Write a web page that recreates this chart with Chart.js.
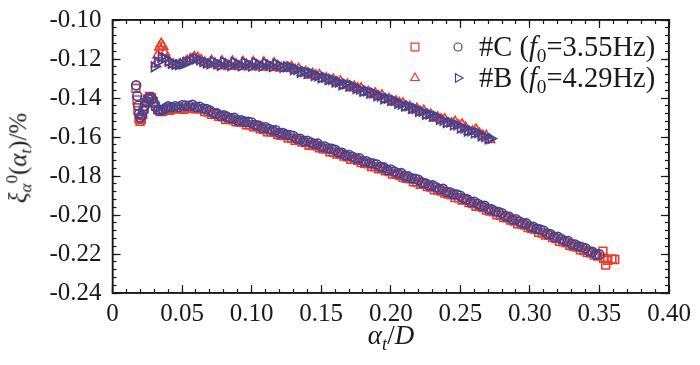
<!DOCTYPE html>
<html>
<head>
<meta charset="utf-8">
<script src="https://cdn.jsdelivr.net/npm/chart.js@4.4.1/dist/chart.umd.min.js"></script>
<style>
  body { margin: 0; background: #fff; }
  #wrap { position: relative; width: 700px; height: 365px; }
  .lbl { position: absolute; font-family: "Liberation Serif", "DejaVu Serif", serif; color: #1a1a1a; white-space: nowrap; line-height: 1; }
  .lbl sub { font-size: 0.68em; vertical-align: -0.3em; }
  .lbl sup { font-size: 0.68em; vertical-align: 0.55em; }
  #ytitle { left: 19px; top: 158px; font-size: 25px; transform: translate(-50%, -50%) rotate(-90deg); }
  #xtitle { left: 391px; top: 322px; font-size: 27px; transform: translateX(-50%); }
  .leg { left: 479px; font-size: 28.5px; }
  #leg1 { top: 33px; }
  #leg2 { top: 64px; }
</style>
</head>
<body>
<div id="wrap">
  <canvas id="grafico" width="700" height="365"></canvas>
  <div class="lbl" id="ytitle"><i>ξ</i><sub><i>α</i></sub><sup>0</sup>(<i>α</i><sub><i>t</i></sub>)/%</div>
  <div class="lbl" id="xtitle"><i>α</i><sub><i>t</i></sub>/<i>D</i></div>
  <div class="lbl leg" id="leg1">#C (<i>f</i><sub>0</sub>=3.55Hz)</div>
  <div class="lbl leg" id="leg2">#B (<i>f</i><sub>0</sub>=4.29Hz)</div>
</div>
<script>
// etiquetas de los ejes
const xTickLabels = ['0', '0.05', '0.10', '0.15', '0.20', '0.25', '0.30', '0.35', '0.40'];
const yTickLabels = ['-0.24', '-0.22', '-0.20', '-0.18', '-0.16', '-0.14', '-0.12', '-0.10'];

// #C, circulos azules
const cCircleX = [0.017, 0.0178, 0.0185, 0.0192, 0.020, 0.021, 0.022, 0.0232, 0.0245, 0.0258, 0.027, 0.0283, 0.0297, 0.0312, 0.0328, 0.0345, 0.0362, 0.038,
  0.0400, 0.0425, 0.0450, 0.0475, 0.0500, 0.0525, 0.0550, 0.0575, 0.0600, 0.0625, 0.0650, 0.0675, 0.0700, 0.0725, 0.0750, 0.0775, 0.0800, 0.0825, 0.0850, 0.0875, 0.0900, 0.0925, 0.0950, 0.0975,
  0.1000, 0.1025, 0.1050, 0.1075, 0.1100, 0.1125, 0.1150, 0.1175, 0.1200, 0.1225, 0.1250, 0.1275, 0.1300, 0.1325, 0.1350, 0.1375, 0.1400, 0.1425, 0.1450, 0.1475,
  0.1500, 0.1525, 0.1550, 0.1575, 0.1600, 0.1625, 0.1650, 0.1675, 0.1700, 0.1725, 0.1750, 0.1775, 0.1800, 0.1825, 0.1850, 0.1875, 0.1900, 0.1925, 0.1950, 0.1975,
  0.2000, 0.2025, 0.2050, 0.2075, 0.2100, 0.2125, 0.2150, 0.2175, 0.2200, 0.2225, 0.2250, 0.2275, 0.2300, 0.2325, 0.2350, 0.2375, 0.2400, 0.2425, 0.2450, 0.2475,
  0.2500, 0.2525, 0.2550, 0.2575, 0.2600, 0.2625, 0.2650, 0.2675, 0.2700, 0.2725, 0.2750, 0.2775, 0.2800, 0.2825, 0.2850, 0.2875, 0.2900, 0.2925, 0.2950, 0.2975,
  0.3000, 0.3025, 0.3050, 0.3075, 0.3100, 0.3125, 0.3150, 0.3175, 0.3200, 0.3225, 0.3250, 0.3275, 0.3300, 0.3325, 0.3350, 0.3375, 0.3400, 0.3425, 0.3450, 0.3475, 0.3500];
const cCircleY = [-0.1335, -0.1390, -0.1440, -0.1480, -0.1500, -0.1490, -0.1465, -0.1440, -0.1418, -0.1402, -0.1396, -0.1404, -0.1425, -0.1447, -0.1462, -0.1466, -0.1460, -0.1452,
  -0.1443, -0.1448, -0.1442, -0.1446, -0.1437, -0.1439, -0.1440, -0.1435, -0.1446, -0.1445, -0.1454, -0.1457, -0.1464, -0.1477, -0.1479, -0.1491, -0.1489, -0.1497, -0.1504, -0.1502, -0.1515, -0.1514, -0.1521, -0.1522,
  -0.1526, -0.1539, -0.1541, -0.1552, -0.1550, -0.1559, -0.1566, -0.1565, -0.1580, -0.1580, -0.1588, -0.1590, -0.1595, -0.1608, -0.1609, -0.1621, -0.1619, -0.1628, -0.1635, -0.1634,
  -0.1649, -0.1649, -0.1658, -0.1661, -0.1666, -0.1679, -0.1681, -0.1694, -0.1692, -0.1701, -0.1709, -0.1709, -0.1724, -0.1724, -0.1733, -0.1736, -0.1741, -0.1754, -0.1756, -0.1769,
  -0.1767, -0.1777, -0.1786, -0.1785, -0.1801, -0.1802, -0.1812, -0.1814, -0.1820, -0.1834, -0.1837, -0.1849, -0.1848, -0.1858, -0.1867, -0.1866, -0.1882, -0.1883, -0.1893, -0.1895,
  -0.1901, -0.1916, -0.1919, -0.1933, -0.1932, -0.1943, -0.1952, -0.1953, -0.1969, -0.1971, -0.1981, -0.1985, -0.1991, -0.2006, -0.2009, -0.2023, -0.2022, -0.2033, -0.2042, -0.2043,
  -0.2059, -0.2061, -0.2071, -0.2075, -0.2081, -0.2096, -0.2099, -0.2113, -0.2112, -0.2123, -0.2132, -0.2133, -0.2149, -0.2151, -0.2161, -0.2165, -0.2171, -0.2186, -0.2189, -0.2203, -0.2202];

// #C, cuadrados rojos
const cSquareX = [0.0168, 0.0176, 0.0183, 0.0190, 0.0198, 0.0207, 0.0217, 0.0228, 0.0240, 0.0253, 0.0266, 0.0280, 0.0294, 0.0309, 0.0325, 0.0342, 0.0360, 0.0378, 0.0395,
  0.04125, 0.04375, 0.04625, 0.04875, 0.05125, 0.05375, 0.05625, 0.05875, 0.06125, 0.06375, 0.06625, 0.06875, 0.07125, 0.07375, 0.07625, 0.07875, 0.08125, 0.08375, 0.08625, 0.08875, 0.09125, 0.09375, 0.09625, 0.09875,
  0.10125, 0.10375, 0.10625, 0.10875, 0.11125, 0.11375, 0.11625, 0.11875, 0.12125, 0.12375, 0.12625, 0.12875, 0.13125, 0.13375, 0.13625, 0.13875, 0.14125, 0.14375, 0.14625, 0.14875,
  0.15125, 0.15375, 0.15625, 0.15875, 0.16125, 0.16375, 0.16625, 0.16875, 0.17125, 0.17375, 0.17625, 0.17875, 0.18125, 0.18375, 0.18625, 0.18875, 0.19125, 0.19375, 0.19625, 0.19875,
  0.20125, 0.20375, 0.20625, 0.20875, 0.21125, 0.21375, 0.21625, 0.21875, 0.22125, 0.22375, 0.22625, 0.22875, 0.23125, 0.23375, 0.23625, 0.23875, 0.24125, 0.24375, 0.24625, 0.24875,
  0.25125, 0.25375, 0.25625, 0.25875, 0.26125, 0.26375, 0.26625, 0.26875, 0.27125, 0.27375, 0.27625, 0.27875, 0.28125, 0.28375, 0.28625, 0.28875, 0.29125, 0.29375, 0.29625, 0.29875,
  0.30125, 0.30375, 0.30625, 0.30875, 0.31125, 0.31375, 0.31625, 0.31875, 0.32125, 0.32375, 0.32625, 0.32875, 0.33125, 0.33375, 0.33625, 0.33875, 0.34125, 0.34375, 0.34625, 0.34875,
  0.3525, 0.3530, 0.3545, 0.3560, 0.3590, 0.3610];
const cSquareY = [-0.1350, -0.1410, -0.1465, -0.1505, -0.1520, -0.1510, -0.1485, -0.1455, -0.1425, -0.1405, -0.1392, -0.1398, -0.1418, -0.1442, -0.1460, -0.1470, -0.1468, -0.1460, -0.1455,
  -0.1463, -0.1454, -0.1457, -0.1452, -0.1458, -0.1451, -0.1448, -0.1455, -0.1455, -0.1456, -0.1470, -0.1472, -0.1484, -0.1483, -0.1494, -0.1497, -0.1510, -0.1509, -0.1512, -0.1522, -0.1524, -0.1525, -0.1537, -0.1537,
  -0.1548, -0.1547, -0.1558, -0.1560, -0.1573, -0.1573, -0.1576, -0.1587, -0.1591, -0.1593, -0.1606, -0.1607, -0.1617, -0.1616, -0.1626, -0.1629, -0.1642, -0.1642, -0.1645, -0.1656,
  -0.1660, -0.1662, -0.1676, -0.1678, -0.1688, -0.1687, -0.1698, -0.1702, -0.1715, -0.1715, -0.1719, -0.1731, -0.1735, -0.1737, -0.1751, -0.1753, -0.1763, -0.1762, -0.1773, -0.1777,
  -0.1790, -0.1791, -0.1796, -0.1807, -0.1812, -0.1815, -0.1830, -0.1831, -0.1842, -0.1842, -0.1854, -0.1857, -0.1871, -0.1872, -0.1877, -0.1888, -0.1893, -0.1896, -0.1911, -0.1912,
  -0.1923, -0.1924, -0.1936, -0.1941, -0.1955, -0.1957, -0.1962, -0.1975, -0.1980, -0.1984, -0.1999, -0.2002, -0.2013, -0.2014, -0.2026, -0.2031, -0.2045, -0.2047, -0.2052, -0.2065,
  -0.2070, -0.2074, -0.2089, -0.2092, -0.2103, -0.2104, -0.2116, -0.2121, -0.2135, -0.2137, -0.2142, -0.2155, -0.2160, -0.2164, -0.2179, -0.2182, -0.2193, -0.2194, -0.2206, -0.2211,
  -0.2185, -0.2222, -0.2257, -0.2232, -0.2225, -0.2228];

// #B, triangulos azules (hacia la derecha)
const bRightX = [0.0300, 0.0325, 0.0350, 0.0375, 0.0400, 0.0425, 0.0450, 0.0475, 0.0500, 0.0525, 0.0550, 0.0575, 0.0600, 0.0625, 0.0650, 0.0675, 0.0700,
  0.0725, 0.0750, 0.0775, 0.0800, 0.0825, 0.0850, 0.0875, 0.0900, 0.0925, 0.0950, 0.0975, 0.1000, 0.1025, 0.1050, 0.1075, 0.1100, 0.1125, 0.1150, 0.1175, 0.1200, 0.1225, 0.1250,
  0.1275, 0.1300, 0.1325, 0.1350, 0.1375, 0.1400, 0.1425, 0.1450, 0.1475, 0.1500, 0.1525, 0.1550, 0.1575, 0.1600, 0.1625, 0.1650, 0.1675, 0.1700, 0.1725, 0.1750,
  0.1775, 0.1800, 0.1825, 0.1850, 0.1875, 0.1900, 0.1925, 0.1950, 0.1975, 0.2000, 0.2025, 0.2050, 0.2075, 0.2100, 0.2125, 0.2150, 0.2175, 0.2200, 0.2225, 0.2250,
  0.2275, 0.2300, 0.2325, 0.2350, 0.2375, 0.2400, 0.2425, 0.2450, 0.2475, 0.2500, 0.2525, 0.2550, 0.2575, 0.2600, 0.2625, 0.2650, 0.2675, 0.2700, 0.2720];
const bRightY = [-0.1240, -0.1215, -0.1190, -0.1195, -0.1212, -0.1222, -0.1228, -0.1229, -0.1226, -0.1220, -0.1212, -0.1203, -0.1198, -0.1204, -0.1213, -0.1221, -0.1225,
  -0.1215, -0.1222, -0.1232, -0.1216, -0.1224, -0.1234, -0.1218, -0.1226, -0.1235, -0.1219, -0.1227, -0.1236, -0.1220, -0.1228, -0.1237, -0.1222, -0.1230, -0.1239, -0.1226, -0.1234, -0.1243, -0.1240,
  -0.1239, -0.1254, -0.1254, -0.1268, -0.1264, -0.1273, -0.1271, -0.1285, -0.1287, -0.1297, -0.1294, -0.1305, -0.1304, -0.1318, -0.1318, -0.1332, -0.1328, -0.1338, -0.1337, -0.1352,
  -0.1355, -0.1366, -0.1363, -0.1375, -0.1374, -0.1389, -0.1390, -0.1404, -0.1402, -0.1412, -0.1412, -0.1427, -0.1431, -0.1442, -0.1440, -0.1453, -0.1453, -0.1469, -0.1469, -0.1484,
  -0.1482, -0.1493, -0.1493, -0.1510, -0.1514, -0.1526, -0.1524, -0.1538, -0.1538, -0.1554, -0.1555, -0.1570, -0.1568, -0.1579, -0.1578, -0.1594, -0.1598, -0.1610, -0.1608];

// #B, triangulos rojos
const bTriX = [0.0312, 0.0325, 0.0338, 0.0350, 0.0362, 0.0376, 0.0392, 0.0410, 0.0435, 0.04625, 0.04875, 0.05125, 0.05375, 0.05625, 0.05875, 0.06125, 0.06375, 0.06625, 0.06875,
  0.07125, 0.07375, 0.07625, 0.07875, 0.08125, 0.08375, 0.08625, 0.08875, 0.09125, 0.09375, 0.09625, 0.09875, 0.10125, 0.10375, 0.10625, 0.10875, 0.11125, 0.11375, 0.11625, 0.11875, 0.12125, 0.12375,
  0.12625, 0.12875, 0.13125, 0.13375, 0.13625, 0.13875, 0.14125, 0.14375, 0.14625, 0.14875, 0.15125, 0.15375, 0.15625, 0.15875, 0.16125, 0.16375, 0.16625, 0.16875, 0.17125, 0.17375,
  0.17625, 0.17875, 0.18125, 0.18375, 0.18625, 0.18875, 0.19125, 0.19375, 0.19625, 0.19875, 0.20125, 0.20375, 0.20625, 0.20875, 0.21125, 0.21375, 0.21625, 0.21875, 0.22125, 0.22375,
  0.22625, 0.22875, 0.23125, 0.23375, 0.23625, 0.23875, 0.24125, 0.24375, 0.24625, 0.24875, 0.25125, 0.25375, 0.25625, 0.25875, 0.26125, 0.26375, 0.26625, 0.26875, 0.27125];
const bTriY = [-0.1225, -0.1180, -0.1140, -0.1122, -0.1135, -0.1168, -0.1198, -0.1215, -0.1228, -0.1233, -0.1226, -0.1218, -0.1210, -0.1200, -0.1190, -0.1194, -0.1206, -0.1218, -0.1226,
  -0.1210, -0.1224, -0.1236, -0.1212, -0.1226, -0.1238, -0.1213, -0.1228, -0.1239, -0.1215, -0.1229, -0.1241, -0.1216, -0.1231, -0.1242, -0.1218, -0.1233, -0.1244, -0.1222, -0.1236, -0.1247, -0.1244,
  -0.1248, -0.1241, -0.1255, -0.1251, -0.1270, -0.1267, -0.1283, -0.1276, -0.1284, -0.1283, -0.1301, -0.1299, -0.1313, -0.1306, -0.1319, -0.1315, -0.1334, -0.1331, -0.1348, -0.1342,
  -0.1351, -0.1351, -0.1370, -0.1368, -0.1383, -0.1376, -0.1390, -0.1387, -0.1406, -0.1405, -0.1422, -0.1417, -0.1426, -0.1427, -0.1446, -0.1445, -0.1461, -0.1455, -0.1470, -0.1466,
  -0.1486, -0.1485, -0.1503, -0.1499, -0.1509, -0.1510, -0.1530, -0.1530, -0.1522, -0.1540, -0.1536, -0.1552, -0.1572, -0.1571, -0.1562, -0.1583, -0.1593, -0.1594, -0.1614];

const ROJO = '#ef3b26';
const AZUL = '#3d4597';
const NEGRO = '#1a1a1a';
const FUENTE = '"Liberation Serif", "DejaVu Serif", serif';

function puntos(xs, ys) {
  return xs.map((x, i) => ({ x: x, y: ys[i] }));
}

// marco (refuerzo) y marcadores de la leyenda
const leyendaPlugin = {
  id: 'leyenda',
  afterDraw(chart) {
    const c = chart.ctx;
    const a = chart.chartArea;
    c.save();
    c.strokeStyle = NEGRO;
    c.lineWidth = 1.5;
    c.strokeRect(a.left, a.top, a.right - a.left, a.bottom - a.top);

    const marcas = [
      { color: ROJO, style: 'rect', rot: 0, r: 5.5, x: 415, y: 47 },
      { color: AZUL, style: 'circle', rot: 0, r: 4, x: 458, y: 47 },
      { color: ROJO, style: 'triangle', rot: 0, r: 5, x: 415, y: 78 },
      { color: AZUL, style: 'triangle', rot: 90, r: 5, x: 458, y: 78 }
    ];
    c.lineWidth = 1.2;
    c.fillStyle = 'rgba(0,0,0,0)';
    marcas.forEach(m => {
      c.strokeStyle = m.color;
      Chart.helpers.drawPoint(c, { pointStyle: m.style, rotation: m.rot, radius: m.r, borderWidth: 1.2 }, m.x, m.y);
    });
    c.restore();
  }
};

const serie = (label, xs, ys, color, style, rot, r) => ({
  label: label,
  data: puntos(xs, ys),
  showLine: false,
  pointStyle: style,
  pointRotation: rot,
  pointRadius: r,
  pointBorderWidth: 1.6,
  pointBorderColor: color,
  pointBackgroundColor: 'rgba(0,0,0,0)'
});

// ejes sin etiquetas: solo marcas hacia dentro (y el borde del marco si hace falta)
function ejeMarcas(axis, position, min, max, step, len, borde) {
  return {
    type: 'linear',
    axis: axis,
    position: position,
    min: min,
    max: max,
    weight: 0,
    border: { display: borde, color: NEGRO, width: 1.5 },
    grid: { display: true, drawOnChartArea: false, drawTicks: true, tickLength: -len, tickColor: NEGRO, tickWidth: 1.2 },
    ticks: { display: false, stepSize: step, autoSkip: false },
    afterFit(s) {
      if (axis === 'x') { s.height = 0; s.paddingLeft = 0; s.paddingRight = 0; }
      else { s.width = 0; s.paddingTop = 0; s.paddingBottom = 0; }
    }
  };
}

new Chart(document.getElementById('grafico'), {
  type: 'scatter',
  data: {
    datasets: [
      serie('#C circulos', cCircleX, cCircleY, AZUL, 'circle', 0, 4.5),
      serie('#B triangulos der', bRightX, bRightY, AZUL, 'triangle', 90, 5.5),
      serie('#C cuadrados', cSquareX, cSquareY, ROJO, 'rect', 0, 5.5),
      serie('#B triangulos', bTriX, bTriY, ROJO, 'triangle', 0, 5.5)
    ]
  },
  options: {
    responsive: false,
    animation: false,
    layout: { padding: { top: 20, right: 31, left: 0, bottom: 0 } },
    plugins: { legend: { display: false }, tooltip: { enabled: false } },
    scales: {
      x: {
        type: 'linear',
        axis: 'x',
        position: 'bottom',
        weight: 1,
        min: 0,
        max: 0.4,
        border: { display: true, color: NEGRO, width: 1.5 },
        grid: { display: true, drawOnChartArea: false, drawTicks: true, tickLength: -8, tickColor: NEGRO, tickWidth: 1.2 },
        afterFit(scale) { scale.height = 72; scale.paddingLeft = 0; scale.paddingRight = 0; },
        ticks: {
          stepSize: 0.05,
          autoSkip: false,
          maxRotation: 0,
          padding: 14,
          color: NEGRO,
          font: { family: FUENTE, size: 25 },
          callback: v => xTickLabels[Math.round(v / 0.05)]
        }
      },
      y: {
        type: 'linear',
        axis: 'y',
        position: 'left',
        weight: 1,
        min: -0.24,
        max: -0.10,
        border: { display: true, color: NEGRO, width: 1.5 },
        grid: { display: true, drawOnChartArea: false, drawTicks: true, tickLength: -8, tickColor: NEGRO, tickWidth: 1.2 },
        afterFit(scale) { scale.width = 112.5; scale.paddingTop = 0; scale.paddingBottom = 0; },
        ticks: {
          stepSize: 0.02,
          autoSkip: false,
          padding: 19,
          color: NEGRO,
          font: { family: FUENTE, size: 25 },
          callback: v => yTickLabels[Math.round((v + 0.24) / 0.02)]
        }
      },
      xMenor: ejeMarcas('x', 'bottom', 0, 0.4, 0.01, 4, false),
      xArriba: ejeMarcas('x', 'top', 0, 0.4, 0.05, 8, true),
      xArribaMenor: ejeMarcas('x', 'top', 0, 0.4, 0.01, 4, false),
      yMenor: ejeMarcas('y', 'left', -0.24, -0.10, 0.004, 4, false),
      yDerecha: ejeMarcas('y', 'right', -0.24, -0.10, 0.02, 8, true),
      yDerechaMenor: ejeMarcas('y', 'right', -0.24, -0.10, 0.004, 4, false)
    }
  },
  plugins: [leyendaPlugin]
});
</script>
</body>
</html>
